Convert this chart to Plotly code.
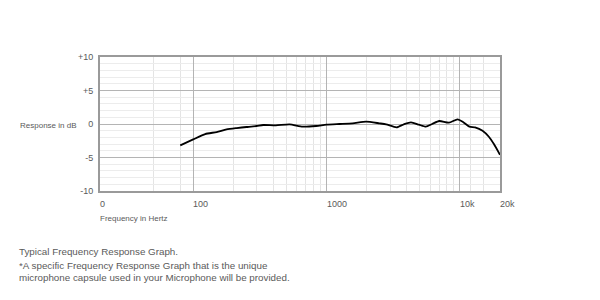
import plotly.graph_objects as go
import math

# Data
freq_hz = [80, 100, 123, 150, 178, 212, 251, 299, 335, 417, 528, 663, 836, 1000,
           1250, 1570, 1980, 2490, 2800, 3350, 3800, 4300, 4930, 5560, 6200, 7000,
           8280, 9600, 10500, 11800, 13000, 14800, 16500, 18000, 20000]
response_db = [-3.2, -2.3, -1.5, -1.2, -0.8, -0.6, -0.45, -0.3, -0.15, -0.2, -0.05, -0.4,
               -0.3, -0.1, 0.0, 0.1, 0.35, 0.1, -0.05, -0.5, -0.05, 0.25, -0.1, -0.4,
               0.0, 0.45, 0.2, 0.7, 0.35, -0.4, -0.5, -1.0, -1.9, -3.0, -4.6]

x_tick_vals = [20, 100, 1000, 10000, 20000]
x_tick_text = ["0", "100", "1000", "10k", "20k"]
x_major_grid = [100, 1000, 10000]
x_minor_grid = [50, 80, 200, 300, 400, 500, 600, 700, 800, 900,
                2000, 3000, 4000, 5000, 6000, 7000, 8000, 9000, 12000, 15000]
y_tick_vals = [-10, -5, 0, 5, 10]
y_tick_text = ["-10", "-5", "0", "+5", "+10"]

caption_lines = [
    "Typical Frequency Response Graph.",
    "*A specific Frequency Response Graph that is the unique",
    "microphone capsule used in your Microphone will be provided.",
]

W, H = 600, 300
L, R, T, B = 100, 500, 57, 191
FONT = "Liberation Sans, Arial, sans-serif"
TXT = "#5a5a5a"

def px(x):
    return (x - L) / (R - L)

def py(y):
    return (B - y) / (B - T)

fig = go.Figure()
fig.add_trace(go.Scatter(
    x=freq_hz, y=response_db, mode="lines",
    line=dict(color="#000000", width=1.8, shape="spline", smoothing=0.6),
    hoverinfo="skip", showlegend=False,
))

fig.update_layout(
    width=W, height=H,
    margin=dict(l=L, r=W - R, t=T, b=H - B, pad=0),
    paper_bgcolor="white", plot_bgcolor="white",
    font=dict(family=FONT, size=9, color=TXT),
    showlegend=False,
    xaxis=dict(
        type="log", range=[math.log10(20), math.log10(20000)],
        tickvals=x_major_grid, showticklabels=False, ticks="",
        showgrid=True, gridcolor="#b4b4b4", gridwidth=1,
        minor=dict(tickvals=x_minor_grid, showgrid=True, gridcolor="#e4e4e4", gridwidth=1, ticks=""),
        showline=True, mirror=True, linecolor="#9a9a9a", linewidth=2,
        zeroline=False, fixedrange=True,
    ),
    yaxis=dict(
        range=[-10, 10], tickvals=y_tick_vals, ticktext=y_tick_text,
        ticks="outside", ticklen=3, tickcolor="rgba(0,0,0,0)",
        tickfont=dict(size=9, color=TXT),
        showgrid=True, gridcolor="#b4b4b4", gridwidth=1,
        minor=dict(dtick=1, showgrid=True, gridcolor="#ececec", gridwidth=1, ticks=""),
        showline=True, mirror=True, linecolor="#9a9a9a", linewidth=2,
        zeroline=False, fixedrange=True,
    ),
)

annotations = []
for v, t in zip(x_tick_vals, x_tick_text):
    annotations.append(dict(
        x=math.log10(v), xref="x", y=py(204), yref="paper",
        text=t, showarrow=False, xanchor="left", yanchor="middle", xshift=-2,
        font=dict(size=9, color=TXT),
    ))
annotations.append(dict(
    x=px(98), xref="paper", y=py(218), yref="paper", text="Frequency in Hertz",
    showarrow=False, xanchor="left", yanchor="middle", font=dict(size=8, color=TXT),
))
annotations.append(dict(
    x=px(18), xref="paper", y=py(125), yref="paper", text="Response in dB",
    showarrow=False, xanchor="left", yanchor="middle", font=dict(size=8, color=TXT),
))
for i, line in enumerate(caption_lines):
    annotations.append(dict(
        x=px(17), xref="paper", y=py([251, 265, 277][i]), yref="paper", text=line,
        showarrow=False, xanchor="left", yanchor="middle", font=dict(size=9.8, color=TXT),
    ))
fig.update_layout(annotations=annotations)

fig.write_html("out.html")
